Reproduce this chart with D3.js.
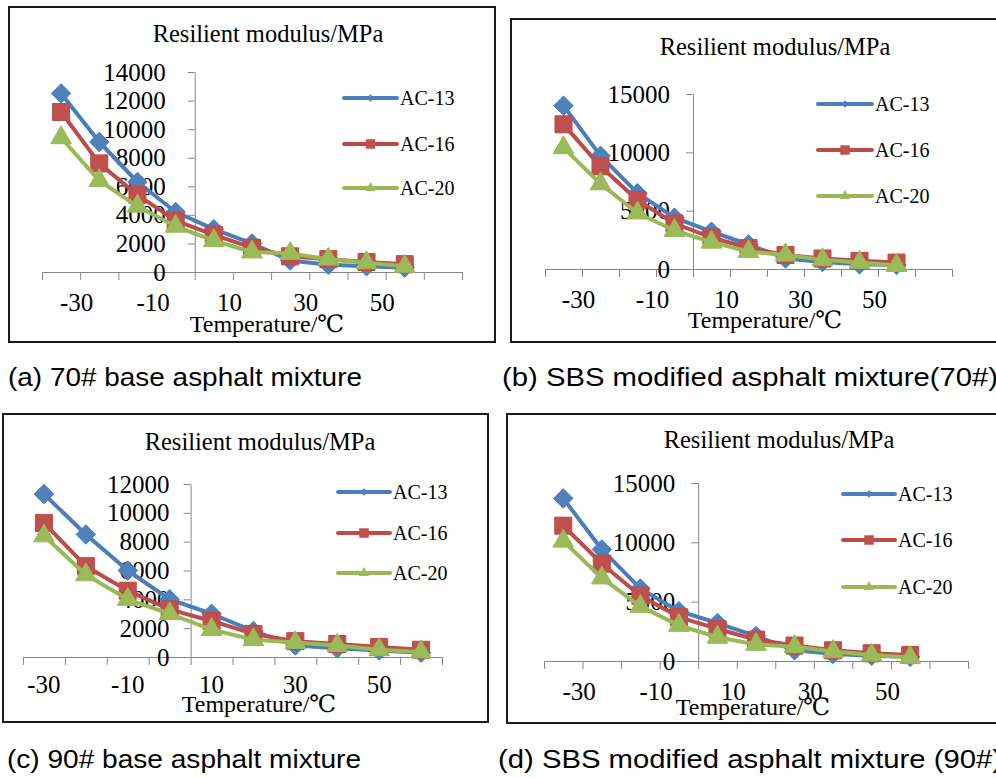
<!DOCTYPE html>
<html>
<head>
<meta charset="utf-8">
<script src="https://cdn.jsdelivr.net/npm/d3@7"></script>
<style>
  body { margin: 0; background: #fff; }
  svg { display: block; }
</style>
</head>
<body>
<svg></svg>
<script>
// 溫度：(a)(b)(d) 為散點位置，(c) 為類別
const tempPoints = [-35, -25, -15, -5, 5, 15, 25, 35, 45, 55];
const tempCategories = [-30, -20, -10, 0, 10, 20, 30, 40, 50, 60];
const xTickValues = [-40, -30, -20, -10, 0, 10, 20, 30, 40, 50, 60, 70];
const xLabelValues = [-30, -10, 10, 30, 50];

const seriesNames = ["AC-13", "AC-16", "AC-20"];

// y 軸刻度
const yTicksA = [0, 2000, 4000, 6000, 8000, 10000, 12000, 14000];
const yTicksB = [0, 5000, 10000, 15000];
const yTicksC = [0, 2000, 4000, 6000, 8000, 10000, 12000];
const yTicksD = [0, 5000, 10000, 15000];

// (a) 70# base
const base70AC13 = [12500, 9100, 6300, 4200, 3000, 2000, 800, 500, 400, 300];
const base70AC16 = [11200, 7600, 5400, 3600, 2600, 1700, 1100, 900, 700, 550];
const base70AC20 = [9400, 6400, 4600, 3200, 2200, 1400, 1300, 900, 650, 400];

// (b) SBS modified (70#)
const sbs70AC13 = [14000, 9700, 6500, 4400, 3200, 2100, 900, 600, 400, 350];
const sbs70AC16 = [12400, 8800, 5900, 3900, 2700, 1800, 1200, 900, 700, 550];
const sbs70AC20 = [10400, 7300, 4800, 3300, 2300, 1500, 1200, 800, 550, 300];

// (c) 90# base
const base90AC13 = [11300, 8500, 6000, 4000, 3000, 1800, 800, 600, 450, 300];
const base90AC16 = [9300, 6300, 4600, 3300, 2500, 1600, 1100, 900, 700, 500];
const base90AC20 = [8400, 5700, 4000, 3000, 1900, 1200, 1000, 800, 500, 350];

// (d) SBS modified (90#)
const sbs90AC13 = [13700, 9400, 6100, 4200, 3200, 2100, 900, 600, 450, 350];
const sbs90AC16 = [11400, 8200, 5500, 3700, 2700, 1800, 1300, 900, 650, 500];
const sbs90AC20 = [10100, 7000, 4600, 3000, 2000, 1400, 1200, 800, 500, 300];

const captions = [
  "(a) 70# base asphalt mixture",
  "(b) SBS modified asphalt mixture(70#)",
  "(c) 90# base asphalt mixture",
  "(d) SBS modified asphalt mixture (90#)"
];

const lineColors = ["#4A7EBB", "#BE4B48", "#98B954"];
const markerColors = ["#4F81BD", "#C0504D", "#9BBB59"];
const axisColor = "#868686";
const serif = "'Liberation Serif', 'Times New Roman', 'DejaVu Serif', serif";
const sans = "'Liberation Sans', Arial, sans-serif";

const svg = d3.select("svg")
  .attr("width", 996)
  .attr("height", 778);

// 菱形
const diamond = {
  draw(ctx, size) {
    const r = Math.sqrt(size / 2);
    ctx.moveTo(0, -r);
    ctx.lineTo(r, 0);
    ctx.lineTo(0, r);
    ctx.lineTo(-r, 0);
    ctx.closePath();
  }
};
const markerTypes = [diamond, d3.symbolSquare, d3.symbolTriangle];
const markerSizes = [190, 290, 185];
const legendMarkerSizes = [30, 90, 45];

// 各子圖版面
const panels = [
  {
    series: [base70AC13, base70AC16, base70AC20], yTicks: yTicksA, cat: false,
    frame: [9, 7, 486, 335], xRange: [42, 462], yRange: [272, 72], yPad: 22,
    legend: { x1: 344, x2: 397, ys: [98, 144, 188] },
    title: [268, 42], xTitle: [267, 332],
    caption: { x: 8, y: 386, len: 354 }
  },
  {
    series: [sbs70AC13, sbs70AC16, sbs70AC20], yTicks: yTicksB, cat: false,
    frame: [511, 19, 495, 323], xRange: [545, 952], yRange: [269, 94], yPad: 16,
    legend: { x1: 818, x2: 872, ys: [104, 150, 196] },
    title: [775, 55], xTitle: [765, 328],
    caption: { x: 502, y: 386, len: 496 }
  },
  {
    series: [base90AC13, base90AC16, base90AC20], yTicks: yTicksC, cat: true,
    frame: [3, 414, 485, 308], xRange: [23, 442], yRange: [657, 484], yPad: 14,
    legend: { x1: 338, x2: 390, ys: [492, 533, 573] },
    title: [260, 450], xTitle: [259, 712],
    caption: { x: 7, y: 768, len: 354 }
  },
  {
    series: [sbs90AC13, sbs90AC16, sbs90AC20], yTicks: yTicksD, cat: false,
    frame: [507, 414, 495, 309], xRange: [544, 968], yRange: [661, 483], yPad: 16,
    legend: { x1: 843, x2: 895, ys: [494, 540, 587] },
    title: [779, 448], xTitle: [753, 715],
    caption: { x: 498, y: 768, len: 504 }
  }
];

function styleAxis(sel, size) {
  sel.select(".domain").attr("stroke", axisColor);
  sel.selectAll(".tick line").attr("stroke", axisColor);
  sel.selectAll(".tick text")
    .attr("fill", "#000")
    .attr("font-family", serif)
    .attr("font-size", size);
}

panels.forEach((p, pi) => {
  const g = svg.append("g");

  // 外框
  g.append("rect")
    .attr("x", p.frame[0]).attr("y", p.frame[1])
    .attr("width", p.frame[2]).attr("height", p.frame[3])
    .attr("fill", "#fff")
    .attr("stroke", "#1a1a1a")
    .attr("stroke-width", 2);

  const y = d3.scaleLinear()
    .domain([0, d3.max(p.yTicks)])
    .range(p.yRange);

  let xPos, yAxisX, xs;

  if (!p.cat) {
    const x = d3.scaleLinear().domain([-40, 70]).range(p.xRange);
    xs = tempPoints;
    xPos = d => x(d);
    yAxisX = x(0);

    const xAxis = d3.axisBottom(x)
      .tickValues(xTickValues)
      .tickSize(8)
      .tickSizeOuter(0)
      .tickPadding(13)
      .tickFormat(d => xLabelValues.includes(d) ? d : "");
    const ax = g.append("g")
      .attr("transform", `translate(0,${p.yRange[0]})`)
      .call(xAxis);
    styleAxis(ax, 25);
    ax.selectAll(".tick text").attr("dx", -4);
  } else {
    const band = d3.scaleBand().domain(tempCategories).range(p.xRange);
    const idx = d3.scaleLinear().domain([0, tempCategories.length]).range(p.xRange);
    xs = tempCategories;
    xPos = d => band(d) + band.bandwidth() / 2;
    yAxisX = idx(4);

    const marks = g.append("g")
      .attr("transform", `translate(0,${p.yRange[0]})`)
      .call(d3.axisBottom(idx)
        .tickValues(d3.range(tempCategories.length + 1))
        .tickSize(8)
        .tickSizeOuter(0)
        .tickFormat(""));
    styleAxis(marks, 25);

    const labels = g.append("g")
      .attr("transform", `translate(0,${p.yRange[0]})`)
      .call(d3.axisBottom(band)
        .tickSize(0)
        .tickPadding(18)
        .tickFormat(d => xLabelValues.includes(d) ? d : ""));
    labels.select(".domain").remove();
    styleAxis(labels, 25);
  }

  const yAxis = d3.axisLeft(y)
    .tickValues(p.yTicks)
    .tickSize(7)
    .tickSizeOuter(0)
    .tickPadding(p.yPad)
    .tickFormat(d3.format("d"));
  const ay = g.append("g")
    .attr("transform", `translate(${yAxisX},0)`)
    .call(yAxis);
  styleAxis(ay, 25);

  // 折線與標記
  const line = d3.line()
    .x((d, i) => xPos(xs[i]))
    .y(d => y(d));

  p.series.forEach((vals, si) => {
    g.append("path")
      .datum(vals)
      .attr("d", line)
      .attr("fill", "none")
      .attr("stroke", lineColors[si])
      .attr("stroke-width", 4)
      .attr("stroke-linejoin", "round");

    g.selectAll(null)
      .data(vals)
      .enter()
      .append("path")
      .attr("d", d3.symbol(markerTypes[si], markerSizes[si]))
      .attr("transform", (d, i) => `translate(${xPos(xs[i])},${y(d)})`)
      .attr("fill", markerColors[si])
      .attr("stroke", lineColors[si])
      .attr("stroke-width", 1);
  });

  // 圖例
  seriesNames.forEach((name, si) => {
    const ly = p.legend.ys[si];
    g.append("line")
      .attr("x1", p.legend.x1).attr("x2", p.legend.x2)
      .attr("y1", ly).attr("y2", ly)
      .attr("stroke", lineColors[si])
      .attr("stroke-width", 4)
      .attr("stroke-linecap", "round");
    g.append("path")
      .attr("d", d3.symbol(markerTypes[si], legendMarkerSizes[si]))
      .attr("transform", `translate(${(p.legend.x1 + p.legend.x2) / 2},${ly})`)
      .attr("fill", markerColors[si]);
    g.append("text")
      .attr("x", p.legend.x2 + 3)
      .attr("y", ly)
      .attr("dy", "0.35em")
      .attr("font-family", serif)
      .attr("font-size", 20)
      .text(name);
  });

  // 標題
  g.append("text")
    .attr("x", p.title[0]).attr("y", p.title[1])
    .attr("text-anchor", "middle")
    .attr("font-family", serif)
    .attr("font-size", 24.5)
    .text("Resilient modulus/MPa");

  g.append("text")
    .attr("x", p.xTitle[0]).attr("y", p.xTitle[1])
    .attr("text-anchor", "middle")
    .attr("font-family", serif)
    .attr("font-size", 24)
    .text("Temperature/℃");

  // 子圖說明
  svg.append("text")
    .attr("x", p.caption.x).attr("y", p.caption.y)
    .attr("font-family", sans)
    .attr("font-size", 26)
    .attr("textLength", p.caption.len)
    .attr("lengthAdjust", "spacingAndGlyphs")
    .text(captions[pi]);
});
</script>
</body>
</html>
